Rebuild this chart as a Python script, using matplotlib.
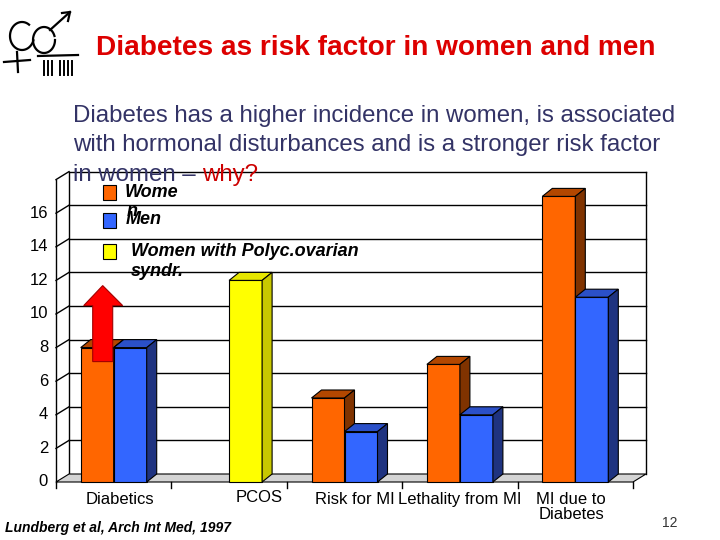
import numpy as np
import matplotlib
matplotlib.use("Agg")
import matplotlib.pyplot as plt
from matplotlib.patches import Polygon, Rectangle
from matplotlib.transforms import IdentityTransform
from matplotlib.lines import Line2D

# ---------------- data ----------------
categories = ["Diabetics", "PCOS", "Risk for MI", "Lethality from MI", "MI due to\nDiabetes"]
women = [8, None, 5, 7, 17]
men = [8, None, 3, 4, 11]
pcos_women = [None, 12, None, None, None]
y_ticks = [0, 2, 4, 6, 8, 10, 12, 14, 16]
legend_labels = ["Wome\nn", "Men", "Women with Polyc.ovarian\nsyndr."]

title = "Diabetes as risk factor in women and men"
sub_lines = ["Diabetes has a higher incidence in women, is associated",
             "with hormonal disturbances and is a stronger risk factor"]
sub_last = ("in women \u2013 ", "why?")
source = "Lundberg et al, Arch Int Med, 1997"
page = "12"

# ---------------- style ----------------
C_OR = ("#ff6600", "#b34700", "#803300")   # front, top, side
C_BL = ("#3366ff", "#2b50c8", "#1f3380")
C_YE = ("#ffff00", "#e6e600", "#c8c800")
FONT = ["Liberation Sans", "DejaVu Sans"]
plt.rcParams["font.family"] = FONT

W, H = 720, 540
fig = plt.figure(figsize=(W / 100, H / 100), dpi=100)
fig.patch.set_facecolor("white")

# back wall axes
ax = fig.add_axes([69 / W, 1 - 474 / H, (646 - 69) / W, (474 - 171.6) / H])
ax.set_xlim(0, 5)
ax.set_ylim(0, 18)
ax.axis("off")

FRONT = np.array([-13.0, -8.0])
BDEPTH = np.array([10.0, 8.0])
ID = IdentityTransform()
LW = 1.0


def D(x, y):
    return ax.transData.transform((x, y))


def line(p, q, **kw):
    fig.add_artist(Line2D([p[0], q[0]], [p[1], q[1]], transform=ID,
                          color="black", lw=LW, **kw))


def poly(pts, fc, z=2):
    fig.add_artist(Polygon(np.array(pts), closed=True, transform=ID, fc=fc,
                           ec="black", lw=0.8, zorder=z))


# walls and gridlines
line(D(0, 0), D(0, 18))
line(D(0, 18), D(5, 18))
line(D(5, 0), D(5, 18))
for yv in list(y_ticks[1:]) + [18]:
    if yv < 18:
        line(D(0, yv), D(5, yv))
    line(D(0, yv) + FRONT, D(0, yv))
line(D(0, 0) + FRONT, D(0, 18) + FRONT)

# floor
poly([D(0, 0), D(5, 0), D(5, 0) + FRONT, D(0, 0) + FRONT], "#d4d4d4", z=2)
for xv in range(6):
    p = D(xv, 0) + FRONT
    line(p, p + np.array([0, -6]))

# y tick labels
for yv in y_ticks:
    p = D(0, yv) + FRONT
    fig.text((p[0] - 8) / W, p[1] / H, str(yv), ha="right", va="center",
             fontsize=12, color="black")

# bars
bw = 33 / 115.4


def bar3d(x0, v, cols):
    x1 = x0 + bw
    fl = D(x0, 0) + FRONT
    fr = D(x1, 0) + FRONT
    tl = D(x0, v) + FRONT
    tr = D(x1, v) + FRONT
    poly([fl, fr, tr, tl], cols[0], z=3)
    poly([tl, tr, tr + BDEPTH, tl + BDEPTH], cols[1], z=3)
    poly([fr, fr + BDEPTH, tr + BDEPTH, tr], cols[2], z=3)


for i in range(len(categories)):
    c = i + 0.5
    if women[i] is not None:
        bar3d(c - bw, women[i], C_OR)
    if men[i] is not None:
        bar3d(c, men[i], C_BL)
    if pcos_women[i] is not None:
        bar3d(c, pcos_women[i], C_YE)

# category labels
label_shift = [6, 30, 10, 0, -4]
label_drop = [10, 8, 10, 10, 10]
for i, lab in enumerate(categories):
    p = D(i + 0.5, 0) + FRONT
    fig.text((p[0] + label_shift[i]) / W, (p[1] - label_drop[i]) / H, lab,
             ha="center", va="top", fontsize=12, color="black",
             linespacing=1.0)

# red arrow on top of women diabetics bar
anchor = D(0.5 - bw / 2, women[0]) + FRONT
arrow_off = np.array([(-4.5, -14), (-4.5, 42), (-13.5, 42), (5.5, 62),
                      (25.5, 42), (15.5, 42), (15.5, -14)])
fig.add_artist(Polygon(anchor + arrow_off, closed=True, transform=ID,
                       fc="#ff0000", ec="#a00000", lw=0.8, zorder=6))


def ftext(x, y, s, **kw):
    return fig.text(x / W, 1 - y / H, s, **kw)


# legend (text + swatches)
sw = [(103, 185, C_OR[0]), (103, 213, C_BL[0]), (103, 244, C_YE[0])]
for (x, y, col) in sw:
    fig.add_artist(Rectangle((x / W, 1 - (y + 15) / H), 13 / W, 15 / H,
                             transform=fig.transFigure, fc=col, ec="black",
                             lw=0.8, zorder=7))
lkw = dict(fontsize=13, fontweight="bold", fontstyle="italic", color="black",
           va="center", ha="left", zorder=8)
w1, w2 = legend_labels[0].split("\n")
ftext(125, 192, w1, **lkw)
ftext(127, 211, w2, **lkw)
ftext(126, 220, legend_labels[1], **lkw)
p1, p2 = legend_labels[2].split("\n")
ftext(131, 251, p1, **lkw)
ftext(131, 271, p2, **lkw)

# logo (rough sketch)
lax = fig.add_axes([0, 1 - 80 / H, 80 / W, 72 / H])
lax.set_xlim(0, 80)
lax.set_ylim(80, 8)
lax.axis("off")
t = np.linspace(0.3 * np.pi, 1.9 * np.pi, 60)
lax.plot(22 + 12 * np.cos(t), 36 - 14 * np.sin(t), color="black", lw=1.6)
lax.plot([4, 30], [62, 60], color="black", lw=1.6)
lax.plot([17, 18], [52, 72], color="black", lw=1.6)
t2 = np.linspace(0.1 * np.pi, 2.0 * np.pi, 60)
lax.plot(44 + 11 * np.cos(t2), 40 - 13 * np.sin(t2), color="black", lw=1.6)
lax.plot([50, 70], [30, 12], color="black", lw=1.6)
lax.plot([62, 70, 68], [13, 12, 21], color="black", lw=1.6)
lax.plot([38, 78], [56, 55], color="black", lw=1.6)
for xb in [44, 48, 52, 60, 64, 68, 72]:
    lax.plot([xb, xb], [61, 75], color="black", lw=1.4)

# title and subtitle
ftext(376, 55, title, ha="center", va="baseline", fontsize=20.2,
      fontweight="bold", color="#dd0000")
for k, s in enumerate(sub_lines):
    ftext(73, 122 + 29.5 * k, s, ha="left", va="baseline", fontsize=17.3,
          color="#333366")
t1 = ftext(73, 181, sub_last[0], ha="left", va="baseline", fontsize=17.3,
           color="#333366", zorder=9)
fig.canvas.draw()
bb = t1.get_window_extent()
fig.text(bb.x1 / W, 1 - 181 / H, sub_last[1], ha="left", va="baseline",
         fontsize=17.3, color="#cc0000", zorder=9)

# footer
ftext(5, 528, source, ha="left", va="center", fontsize=10, fontweight="bold",
      fontstyle="italic", color="black")
ftext(670, 523, page, ha="center", va="center", fontsize=10, color="#333333")

fig.savefig("out.png", dpi=100)
